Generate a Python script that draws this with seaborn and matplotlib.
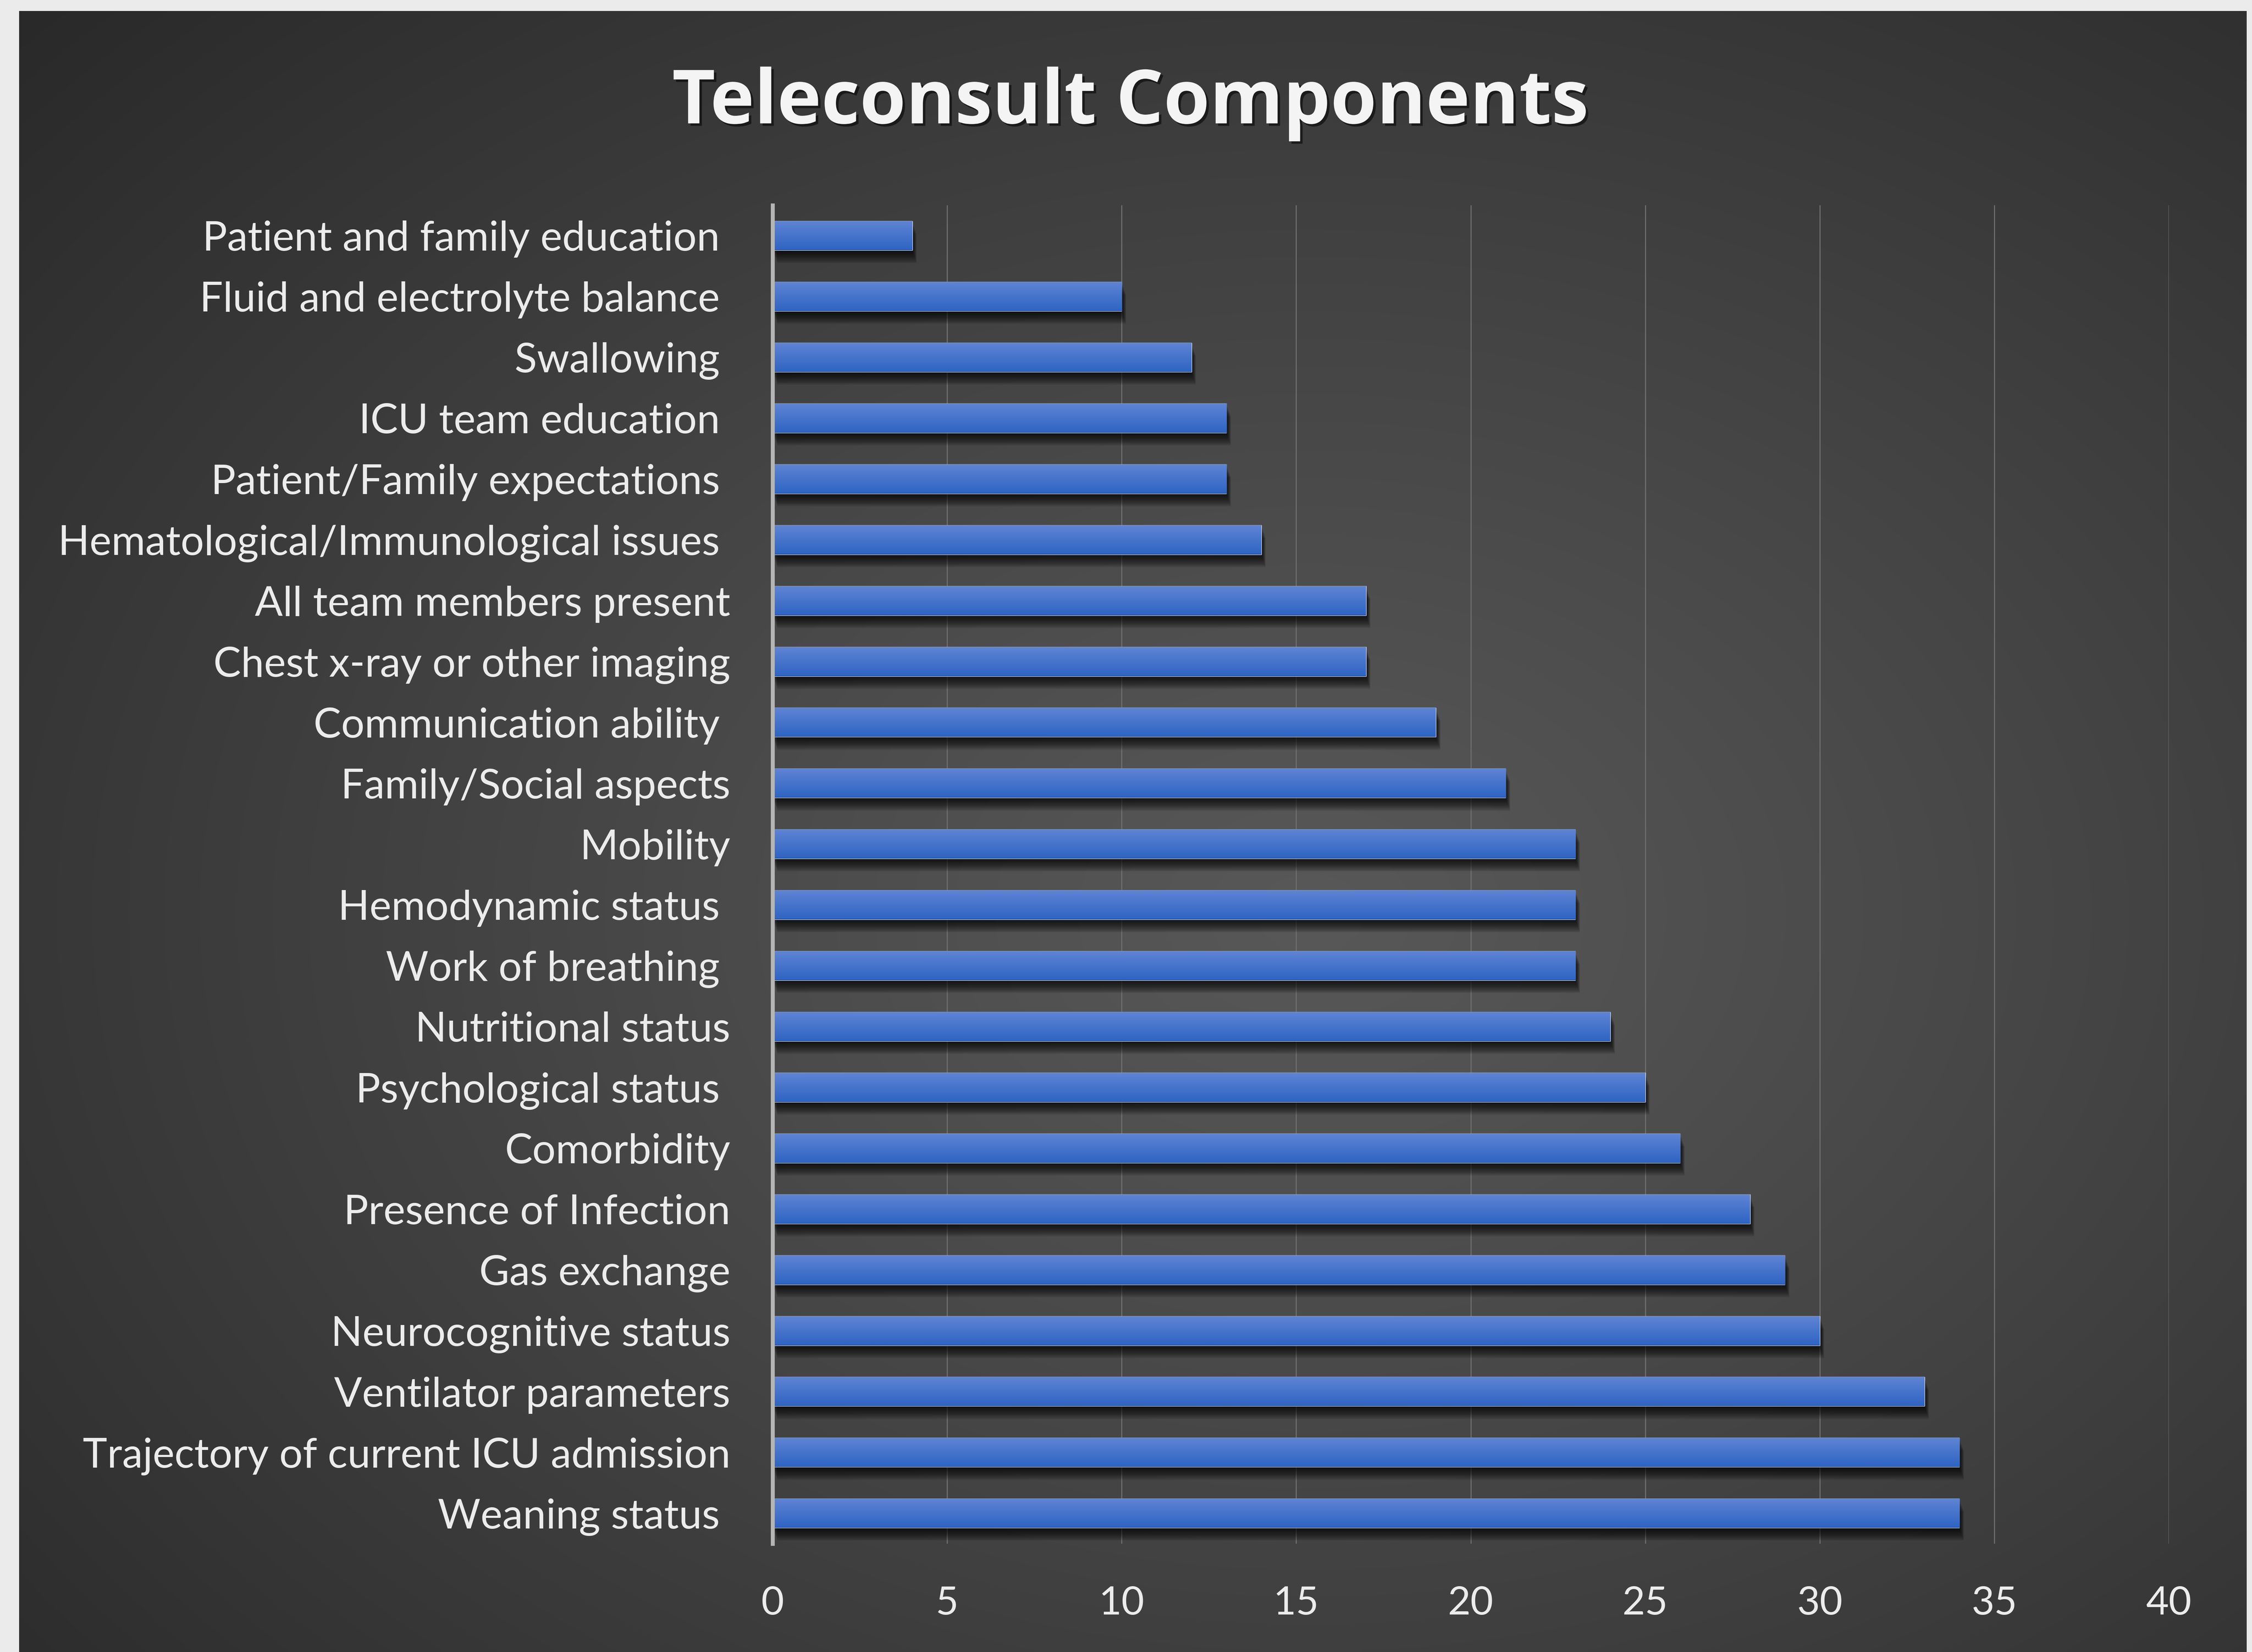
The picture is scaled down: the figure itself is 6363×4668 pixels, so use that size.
import numpy as np
import pandas as pd
import matplotlib
matplotlib.use("Agg")
import matplotlib.pyplot as plt
import matplotlib.patheffects as pe
import seaborn as sns

# Teleconsult component counts (top to bottom)
components = [
    "Patient and family education ",
    "Fluid and electrolyte balance ",
    "Swallowing ",
    "ICU team education ",
    "Patient/Family expectations ",
    "Hematological/Immunological issues ",
    "All team members present",
    "Chest x-ray or other imaging",
    "Communication ability ",
    "Family/Social aspects",
    "Mobility",
    "Hemodynamic status ",
    "Work of breathing ",
    "Nutritional status",
    "Psychological status ",
    "Comorbidity",
    "Presence of Infection",
    "Gas exchange",
    "Neurocognitive status",
    "Ventilator parameters",
    "Trajectory of current ICU admission",
    "Weaning status ",
]
counts = [4, 10, 12, 13, 13, 14, 17, 17, 19, 21, 23, 23, 23, 24, 25, 26, 28, 29, 30, 33, 34, 34]
x_ticks = [0, 5, 10, 15, 20, 25, 30, 35, 40]

df = pd.DataFrame({"component": components, "count": counts})

sns.set_theme(style="white")
plt.rcParams["font.family"] = ["Lato", "DejaVu Sans"]

W, H, DPI = 6363, 4668, 100
fig = plt.figure(figsize=(W / DPI, H / DPI), dpi=DPI, facecolor="#ebebeb")

# dark slide panel with a soft radial glow
bg = fig.add_axes([54 / W, 0, (6348 - 54) / W, (H - 31) / H], zorder=0)
gx, gy = np.meshgrid(np.linspace(0, 1, 600), np.linspace(0, 1, 450))
d = np.sqrt(((gx - 0.58) / 0.62) ** 2 + ((gy - 0.55) / 0.62) ** 2) / np.sqrt(2)
d = np.clip(d, 0, 1)
shade = (88 - (88 - 36) * d ** 1.1) / 255.0
bg.imshow(np.dstack([shade, shade, shade]), extent=(0, 1, 0, 1), aspect="auto",
          interpolation="bilinear")
bg.set_axis_off()

ax = fig.add_axes([2183 / W, 1 - 4362 / H, (6128 - 2183) / W, (4362 - 580) / H], zorder=1)
ax.set_facecolor("none")

sns.barplot(data=df, x="count", y="component", orient="h", color="#4472c4",
            width=0.48, saturation=1, ax=ax, zorder=3)

ax.set_xlim(0, 40)
ylim = ax.get_ylim()

# soft drop shadow under each bar plus a vertical blue gradient fill
shadow = [pe.SimplePatchShadow(offset=(0.35 * k, -k), shadow_rgbFace="black", alpha=0.085)
          for k in range(2, 28, 2)]
top_c = np.array([0x5f, 0x84, 0xd4]) / 255
bot_c = np.array([0x2e, 0x64, 0xc3]) / 255
t = np.linspace(0, 1, 64)[:, None]
grad = (top_c[None, :] * (1 - t) + bot_c[None, :] * t)[:, None, :]
grad[0, 0, :] = np.array([0x74, 0x94, 0xd8]) / 255
grad[-1, 0, :] = np.array([0x1c, 0x3e, 0x7e]) / 255
for p in ax.patches:
    p.set_path_effects(shadow + [pe.Normal()])
    x0, y0, w, h = p.get_x(), p.get_y(), p.get_width(), p.get_height()
    ax.imshow(grad, extent=(x0, x0 + w, y0 + h, y0), aspect="auto",
              interpolation="bilinear", zorder=4)
ax.set_xlim(0, 40)
ax.set_ylim(ylim)

ax.set_xticks(x_ticks)
ax.set_xticklabels([str(v) for v in x_ticks])
ax.xaxis.grid(True, color="#6e6e6e", linewidth=2.2)
ax.yaxis.grid(False)
ax.set_axisbelow(True)
for s in ["top", "right", "bottom"]:
    ax.spines[s].set_visible(False)
ax.spines["left"].set_color("#b5b5b5")
ax.spines["left"].set_linewidth(8)
ax.spines["left"].set_zorder(5)
ax.tick_params(axis="both", length=0, colors="#ececec")
ax.tick_params(axis="y", pad=86, labelsize=84)
ax.tick_params(axis="x", pad=86, labelsize=80)
ax.set_xlabel("")
ax.set_ylabel("")

fig.text(0.502, 0.937, "Teleconsult Components", ha="center", va="center",
         fontsize=152, fontweight="bold", color="#f4f4f4",
         family=["Open Sans", "DejaVu Sans"],
         path_effects=[pe.withSimplePatchShadow(offset=(5, -5), shadow_rgbFace="black", alpha=0.55)])

fig.savefig("out.png", dpi=DPI, facecolor=fig.get_facecolor())
